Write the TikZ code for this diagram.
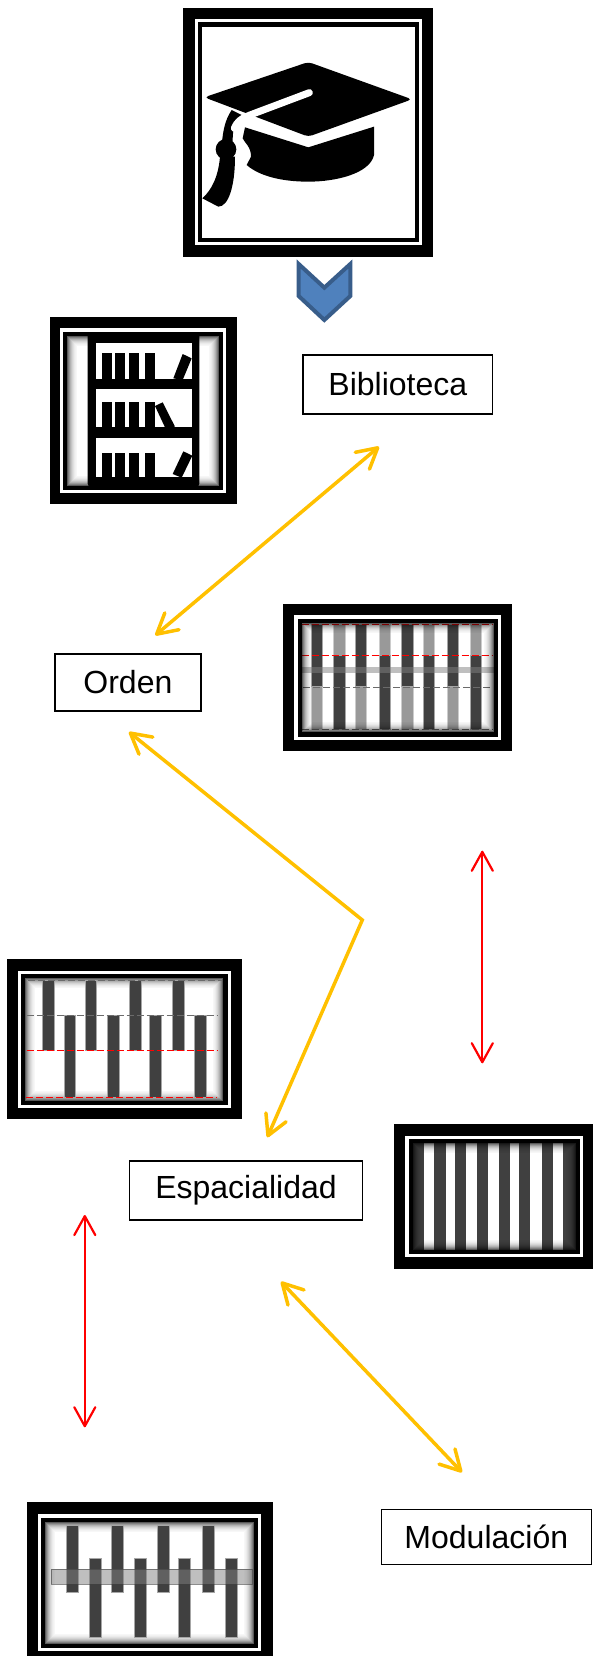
\documentclass[tikz,border=0pt]{standalone}
\usepackage{fontspec}
\setmainfont{Liberation Sans}
\usetikzlibrary{arrows.meta}

\definecolor{gold}{HTML}{FFC000}
\definecolor{barDark}{HTML}{404040}
\definecolor{barLight}{HTML}{999999}
\definecolor{chevFill}{HTML}{4F81BD}
\definecolor{chevLine}{HTML}{385D8A}

\tikzset{
  cropped/.style={shift={(#1)},scale=1/3},
  labelbox/.style={draw,line width=1.5pt,inner sep=0pt,font=\fontsize{32}{36}\selectfont},
  goldarrow/.style={draw=gold,line width=3.5pt,miter limit=10,
    {Straight Barb[length=20pt,width=22pt,round]}-{Straight Barb[length=20pt,width=22pt,round]}},
  redarrow/.style={draw=red,line width=2.2pt,
    {Straight Barb[length=19pt,width=21pt,round]}-{Straight Barb[length=19pt,width=21pt,round]}},
  reddash/.style={draw=red,line width=1pt,dash pattern=on 7pt off 3pt},
  graydash/.style={draw=barLight!70!black,line width=1pt,dash pattern=on 7pt off 3pt},
  darkbar/.style={fill=barDark,draw=gray!70,line width=.6pt},
  lightbar/.style={fill=barLight,draw=gray!40,line width=.6pt},
  band/.style={fill=gray,opacity=.5}
}

% outer edge, then picture area inside the double border
\newcommand{\imgframe}[8]{
  \fill[black] (#1,#2) rectangle (#3,#4);
  \fill[white] (#5-7.3,#6-7.3) rectangle (#7+7.3,#8+7.3);
  \fill[black] (#5-4.2,#6-4.2) rectangle (#7+4.2,#8+4.2);
  \fill[white] (#5,#6) rectangle (#7,#8);
}
% dark soft rim drawn over the picture area
\newcommand{\softedge}[4]{
  \foreach \i/\o in {0/.65,1/.5,2/.4,3/.3,4/.23,5/.17,6/.12,7/.08,8/.05,9/.03}
    \draw[black,line width=1pt,opacity=\o] (#1+\i+.5,#2+\i+.5) rectangle (#3-\i-.5,#4-\i-.5);
}

\begin{document}
\begin{tikzpicture}[x=1pt,y=-1pt]
  \useasboundingbox (0,0) rectangle (593,1656);

  % Graduation cap
  \imgframe{183.3}{8}{432.7}{257}{202.3}{26.7}{415}{238}
  \begin{scope}[cropped={170,0}]
    \fill[rounded corners=4pt] (415,186) -- (726,298) -- (415,410) -- (103,292) -- cycle;
    \fill (185,330) .. controls (165,360) and (160,390) .. (156,425) -- (188,425) .. controls (188,395) and (190,370) .. (215,345) -- cycle;
    \draw[white,line width=7pt,line cap=round] (418,278) -- (240,345) .. controls (215,355) and (200,365) .. (193,385);
    \fill (168,448) circle[radius=31];
    \fill (150,470) .. controls (145,530) and (125,570) .. (97,595) -- (145,620) .. controls (175,620) and (195,560) .. (195,470) -- cycle;
    \fill (225,382) -- (415,442) -- (612,380) -- (612,465) .. controls (600,520) and (500,545) .. (415,545) .. controls (340,545) and (270,530) .. (230,495) -- (243,470) .. controls (243,440) and (225,430) .. (218,415) -- cycle;
    % Chevron below the frame
    \draw[fill=chevFill,draw=chevLine,line width=4pt] (386,792) -- (463,863) -- (541,792) -- (541,888) -- (463,960) -- (386,888) -- cycle;
  \end{scope}

  % Bookcase
  \imgframe{50}{317.3}{236.7}{504.3}{67.3}{335.7}{219}{485.7}
  \softedge{67.3}{335.7}{219}{485.7}
  \begin{scope}[cropped={40,310}]
    \fill[rounded corners=3pt] (143,67) rectangle (478,530);
    \fill[white] (167,100) rectangle (455,208);
    \fill[white] (167,238) rectangle (455,352);
    \fill[white] (167,383) rectangle (455,502);
    \foreach \x in {185,226,268,315} {
      \fill (\x,128) rectangle +(30,80);
      \fill (\x,277) rectangle +(30,75);
      \fill (\x,428) rectangle +(30,74);
    }
    \fill (400,205) -- (428,132) -- (455,145) -- (428,210) -- cycle;
    \fill (345,288) -- (368,277) -- (405,350) -- (375,352) -- cycle;
    \fill (398,492) -- (430,424) -- (457,437) -- (425,503) -- cycle;
  \end{scope}

  % Bars with two tones
  \imgframe{283.3}{604}{512.3}{750.7}{301.7}{622.7}{494}{732.3}
  \begin{scope}[cropped={275,595}]
    \foreach \x in {108,240,380,517} {
      \filldraw[lightbar] (\x,275) rectangle +(34,127);
      \filldraw[darkbar] (\x,88) rectangle +(34,187);
    }
    \foreach \x in {176,312,445,585} {
      \filldraw[lightbar] (\x,88) rectangle +(34,92);
      \filldraw[darkbar] (\x,180) rectangle +(34,222);
    }
    \fill[band] (80,215) rectangle (657,235);
    \draw[reddash] (80,88) -- (655,88);
    \draw[reddash] (80,180) -- (655,180);
    \draw[graydash] (85,276) -- (655,276);
    \draw[graydash] (80,403) -- (655,403);
  \end{scope}
  \softedge{301.7}{622.7}{494}{732.3}

  % Staggered bars with dashed levels
  \imgframe{6.7}{959.3}{242}{1119.3}{25.3}{978.3}{223.3}{1101}
  \softedge{25.3}{978.3}{223.3}{1101}
  \begin{scope}[cropped={0,950}]
    \foreach \x in {127,255,388,518}
      \filldraw[darkbar] (\x,90) rectangle +(35,211);
    \foreach \x in {192,323,449,584}
      \filldraw[darkbar] (\x,197) rectangle +(35,244);
    \draw[graydash] (85,91) -- (665,91);
    \draw[graydash] (80,197) -- (655,197);
    \draw[reddash] (80,302) -- (655,302);
    \draw[reddash] (78,441) -- (652,441);
  \end{scope}

  % Plain stripes
  \imgframe{394}{1124.3}{593}{1269}{412.7}{1143.3}{576}{1250}
  \begin{scope}[cropped={385,1115}]
    \foreach \x/\w in {83/34,148/34,209/34,277/33,341/34,402/34,470/34,533/40}
      \fill[barDark] (\x,85) rectangle +(\w,320);
  \end{scope}
  \softedge{412.7}{1143.3}{576}{1250}

  % Staggered bars with a band
  \imgframe{26.7}{1502.3}{272.7}{1656}{45}{1521.7}{254}{1644}
  \softedge{45}{1521.7}{254}{1644}
  \begin{scope}[cropped={15,1495}]
    \foreach \x in {155,288,427,562}
      \filldraw[darkbar] (\x,90) rectangle +(36,202);
    \foreach \x in {223,359,490,630}
      \filldraw[darkbar] (\x,190) rectangle +(36,237);
    \fill[band] (108,222) rectangle (713,268);
    \draw[barDark,opacity=.6] (108,222) rectangle (713,268);
  \end{scope}

  % Labels
  \node[labelbox,minimum width=189.5pt,minimum height=59pt] (biblioteca) at (397.8,384.5) {Biblioteca};
  \node[labelbox,minimum width=146pt,minimum height=57pt] (orden) at (127.9,682.3) {Orden};
  \node[labelbox,minimum width=233pt,minimum height=59pt] (espacialidad) at (246,1190.5) {Espacialidad};
  \node[labelbox,minimum width=210pt,minimum height=55pt] (modulacion) at (486.3,1536.8) {Modulación};

  % Free ends of the arrows
  \coordinate (bibEnd) at (379,446.7);
  \coordinate (ordTop) at (155.3,635.3);
  \coordinate (ordLow) at (129,732);
  \coordinate (elbow) at (362.3,920);
  \coordinate (espTop) at (267.3,1137.3);
  \coordinate (espLow) at (281,1281.7);
  \coordinate (modTop) at (462,1472.3);
  \coordinate (redRightA) at (482.3,850.7);
  \coordinate (redRightB) at (482.3,1063.3);
  \coordinate (redLeftA) at (84.8,1215);
  \coordinate (redLeftB) at (84.8,1427.3);

  % Arrows
  \draw[goldarrow] (ordTop) -- (bibEnd);
  \draw[goldarrow] (ordLow) -- (elbow) -- (espTop);
  \draw[goldarrow] (espLow) -- (modTop);
  \draw[redarrow] (redRightA) -- (redRightB);
  \draw[redarrow] (redLeftA) -- (redLeftB);
\end{tikzpicture}
\end{document}
